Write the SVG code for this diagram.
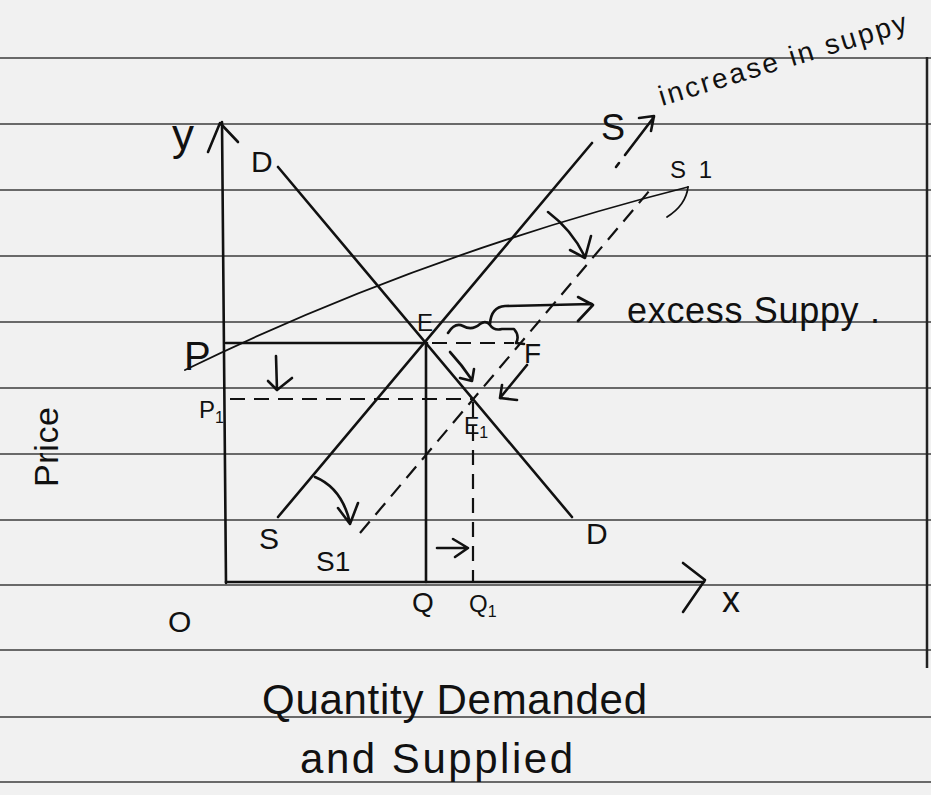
<svg xmlns="http://www.w3.org/2000/svg" width="931" height="795" viewBox="0 0 931 795">
<style>
.rule{stroke:#3c3c3c;stroke-width:1.6;fill:none}
.ink{stroke:#111;stroke-width:2.6;fill:none;stroke-linecap:round;stroke-linejoin:round}
.thin{stroke:#111;stroke-width:1.8;fill:none;stroke-linecap:round}
.dash{stroke:#111;stroke-width:2.2;fill:none;stroke-dasharray:15 9}
.t{font-family:"Liberation Sans",Arial,sans-serif;fill:#111}
</style>
<rect width="931" height="795" fill="#f1f1f1"/>
<g id="paper">
<path class="rule" d="M0,58H931M0,124H931M0,190H931M0,256H931M0,322H931M0,388H931M0,454H931M0,520H931M0,585H931M0,650H931M0,717H931M0,782H931"/>
<path d="M927,57V668" stroke="#222" stroke-width="2.5"/>
</g>
<g id="axes">
<path class="ink" d="M222,122L226,583"/>
<path class="ink" d="M208,152L220,123L238,142"/>
<path class="ink" stroke-width="3.2" d="M226,582H704"/>
<path class="ink" d="M683,563L705,580L683,612"/>
</g>
<g id="connectors">
<path id="demand" class="ink" d="M278,167L572,517"/>
<path id="supply" class="ink" d="M278,517L592,143"/>
<path id="supply1" class="dash" d="M360,533L650,190"/>
<path id="priceCurve" class="thin" d="M185,370Q420,255 688,187"/>
<path class="thin" d="M688,187Q686,205 667,217"/>
<path id="pLine" class="ink" d="M226,343H427"/>
<path class="dash" stroke-dasharray="11 8" d="M432,343H514"/>
<path id="p1Line" class="dash" stroke-dasharray="14 8" d="M230,399H473"/>
<path id="qLine" class="ink" d="M426,343V582"/>
<path id="q1Line" class="dash" stroke-dasharray="22 8" d="M473,402V582"/>
<path id="arrowP" class="ink" d="M276,356L277,390L292,378M268,381L277,390"/>
<path id="arrowEE1" class="ink" d="M450,352Q462,365 472,380M460,378L472,381L474,369"/>
<path id="arrowFE1" class="ink" d="M527,365L500,398M502,385L500,398L517,400"/>
<path id="brace" class="ink" d="M448,333Q455,322 463,326Q472,331 480,324Q486,320 490,325Q494,331 502,329L514,329Q520,336 516,343L524,344"/>
<path id="arrowExcess" class="ink" d="M490,324Q491,307 505,306L592,304M578,297L593,305L578,321"/>
<path id="arrowShiftTop" class="ink" d="M548,212Q572,230 585,257M570,250L585,258L591,236"/>
<path id="arrowShiftBottom" class="ink" d="M315,477Q342,488 350,523M338,508L350,524L358,503"/>
<path id="arrowQQ1" class="ink" d="M437,548H468M453,539L468,548L455,557"/>
<path id="arrowIncrease" class="ink" d="M616,167L619,163M625,155L654,117M639,118L654,116L651,131"/>
</g>
<g id="labels">
<text id="lblY" class="t" x="172" y="150" font-size="44">y</text>
<text id="lblX" class="t" x="722" y="612" font-size="36">x</text>
<text id="lblO" class="t" x="168" y="632" font-size="30">O</text>
<text id="lblDtop" class="t" x="251" y="172" font-size="30">D</text>
<text id="lblDbot" class="t" x="586" y="544" font-size="30">D</text>
<text id="lblStop" class="t" x="601" y="140" font-size="36">S</text>
<text id="lblSbot" class="t" x="259" y="549" font-size="30">S</text>
<text id="lblS1top" class="t" x="670" y="178" font-size="24" textLength="42">S1</text>
<text id="lblS1bot" class="t" x="316" y="571" font-size="28">S1</text>
<text id="lblE" class="t" x="417" y="331" font-size="24">E</text>
<text id="lblE1" class="t" x="464" y="434" font-size="23">E<tspan font-size="16" dy="4">1</tspan></text>
<text id="lblF" class="t" x="524" y="363" font-size="28">F</text>
<text id="lblP" class="t" x="184" y="370" font-size="40">P</text>
<text id="lblP1" class="t" x="199" y="418" font-size="24">P<tspan font-size="16" dy="5">1</tspan></text>
<text id="lblQ" class="t" x="412" y="612" font-size="28">Q</text>
<text id="lblQ1" class="t" x="469" y="612" font-size="24">Q<tspan font-size="16" dy="5">1</tspan></text>
<text id="lblPrice" class="t" font-size="34" textLength="80" transform="translate(58,487) rotate(-90)">Price</text>
<text id="lblExcess" class="t" x="627" y="323" font-size="36" textLength="253">excess Suppy .</text>
<text id="lblIncrease" class="t" font-size="28" textLength="258" transform="translate(662,106) rotate(-17)">increase in suppy</text>
<text id="lblQty1" class="t" x="262" y="714" font-size="42" textLength="385">Quantity Demanded</text>
<text id="lblQty2" class="t" x="300" y="773" font-size="42" textLength="273">and Supplied</text>
</g>
</svg>
